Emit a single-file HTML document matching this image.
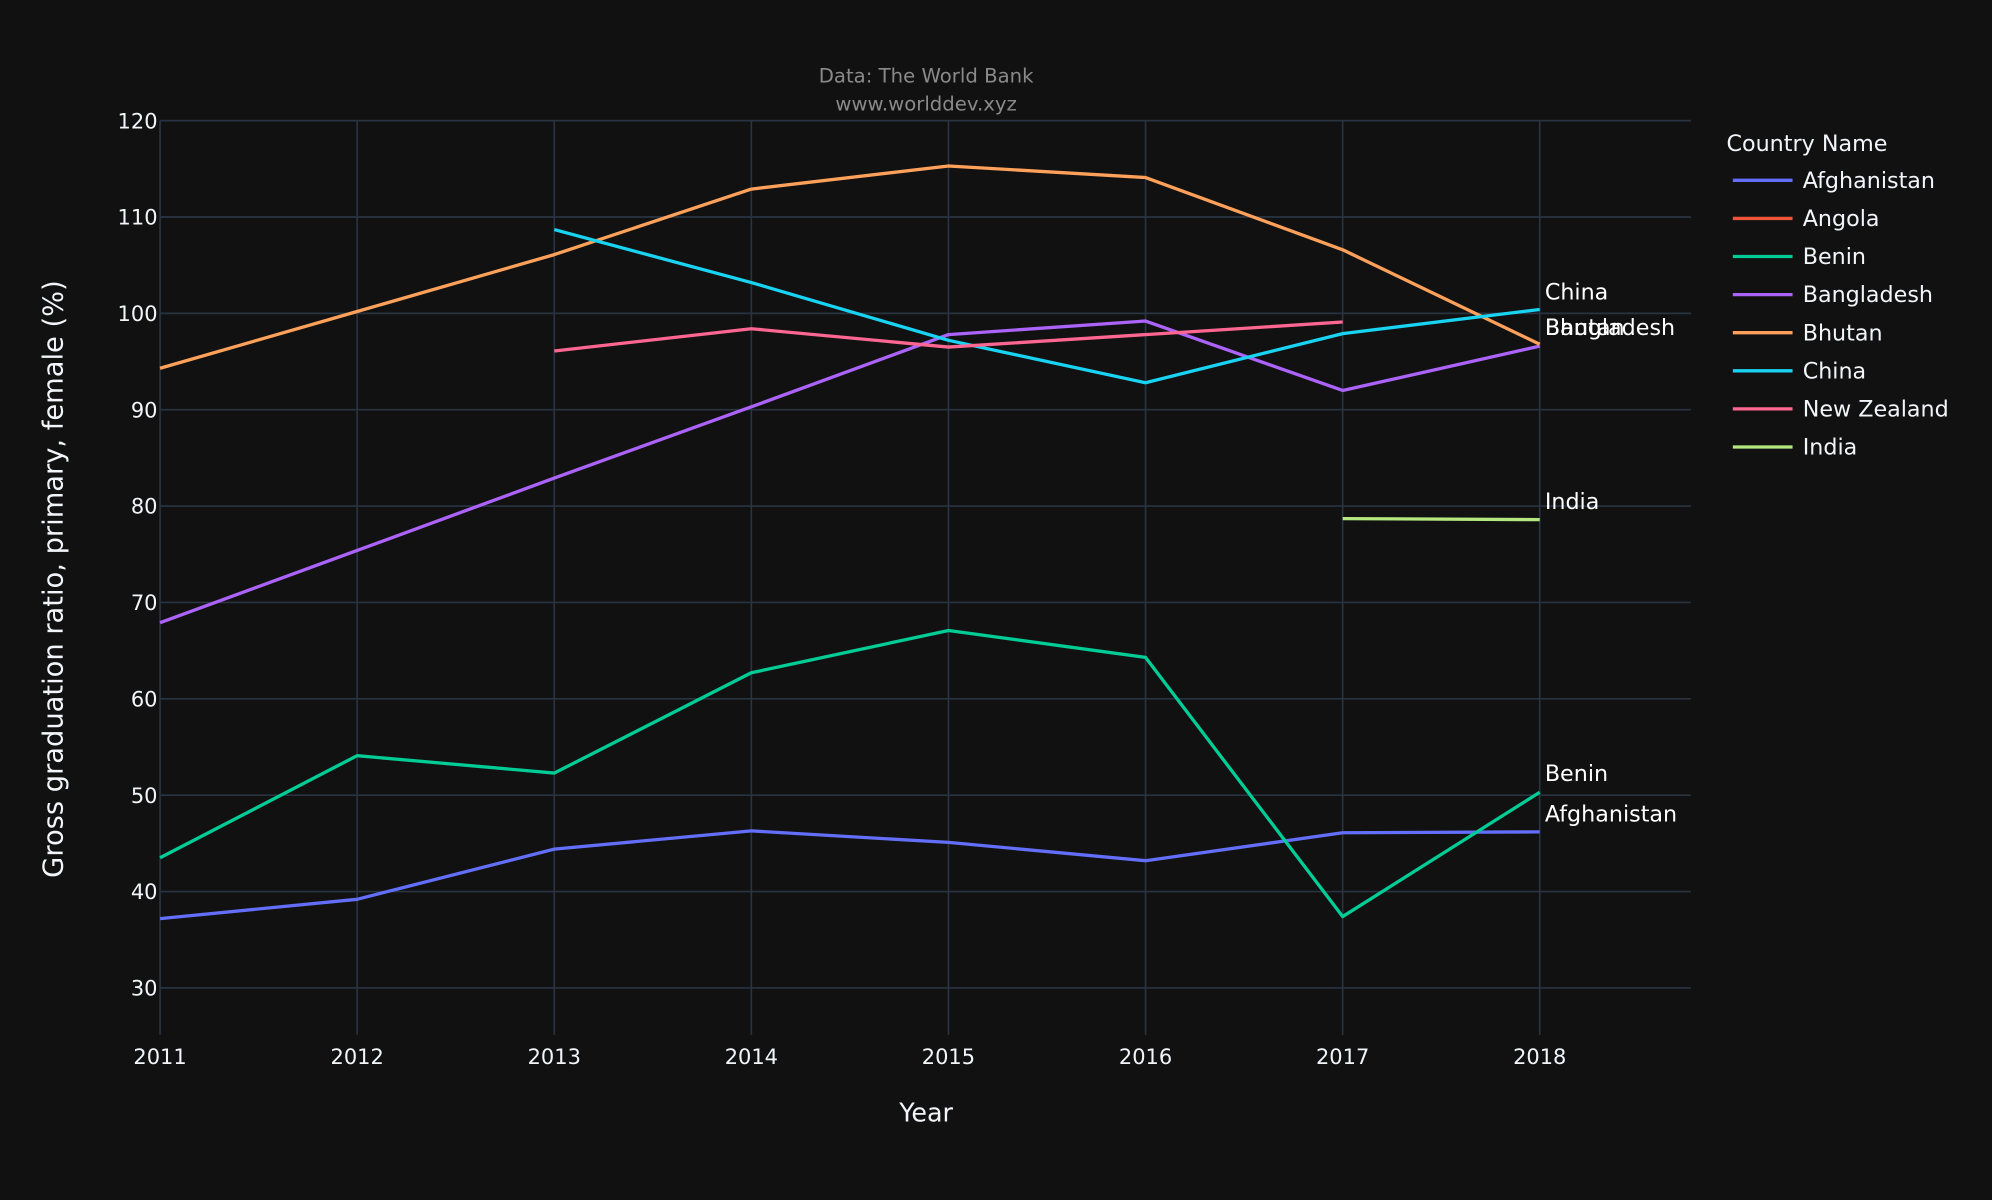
<!DOCTYPE html>
<html><head><meta charset="utf-8"><style>
html,body{margin:0;padding:0;background:#111111;}
svg{display:block;font-family:"DejaVu Sans","Liberation Sans",sans-serif;}
</style></head>
<body>
<svg id="chart" width="1992" height="1200" viewBox="0 0 1568 945" preserveAspectRatio="none" xmlns="http://www.w3.org/2000/svg">
<rect width="1568" height="945" fill="#111111"/>
<g id="grid"></g>
<g id="series"></g>
<g id="labels"></g>
<text x="729" y="65" text-anchor="middle" font-size="15.5" fill="#8a8a8a">Data: The World Bank</text>
<text x="729" y="87" text-anchor="middle" font-size="15.5" fill="#8a8a8a">www.worlddev.xyz</text>
<text x="729" y="883" text-anchor="middle" font-size="20" fill="#f2f5fa">Year</text>
<text transform="translate(49,456) rotate(-90)" text-anchor="middle" font-size="21.5" fill="#f2f5fa">Gross graduation ratio, primary, female (%)</text>
<g id="legend"><text x="1359" y="119" font-size="17.5" fill="#f2f5fa">Country Name</text></g>
</svg>
<script>
const years = [2011,2012,2013,2014,2015,2016,2017,2018];
const yTicks = [30,40,50,60,70,80,90,100,110,120];
const seriesNames = ["Afghanistan","Angola","Benin","Bangladesh","Bhutan","China","New Zealand","India"];
const seriesColors = ["#636efa","#EF553B","#00cc96","#ab63fa","#FFA15A","#19d3f3","#FF6692","#B6E880"];
const afghanistan = [37.2,39.2,44.4,46.3,45.1,43.2,46.1,46.2];
const angola = [null,null,null,null,null,null,null,null];
const benin = [43.5,54.1,52.3,62.7,67.1,64.3,37.4,50.3];
const bangladesh = [67.9,75.4,82.9,90.3,97.8,99.2,92.0,96.6];
const bhutan = [94.3,100.2,106.1,112.9,115.3,114.1,106.6,96.8];
const china = [null,null,108.7,103.2,97.2,92.8,97.9,100.4];
const newZealand = [null,null,96.1,98.4,96.5,97.8,99.1,null];
const india = [null,null,null,null,null,null,78.7,78.6];
const allSeries = [afghanistan,angola,benin,bangladesh,bhutan,china,newZealand,india];
const endLabels = [["China",230],["Bhutan",258],["Bangladesh",258],["India",395],["Benin",609],["Afghanistan",641]];

const NS="http://www.w3.org/2000/svg";
function xs(y){return 126+(y-2011)*(1212-126)/7;}
function ys(v){return 778-(v-30)*(778-95)/90;}
function mk(tag,attrs,parent){const e=document.createElementNS(NS,tag);for(const k in attrs)e.setAttribute(k,attrs[k]);parent.appendChild(e);return e;}
const grid=document.getElementById('grid');
yTicks.forEach(t=>{
  const l=mk('line',{x1:126,x2:1331,y1:ys(t),y2:ys(t),stroke:'#283442','stroke-width':1.3},grid);
  
  
  const tx=mk('text',{x:124,y:ys(t)+6,'text-anchor':'end','font-size':16.5,fill:'#f2f5fa'},grid);
  tx.textContent=t;
  
  
});
years.forEach(y=>{
  const l=mk('line',{x1:xs(y),x2:xs(y),y1:95,y2:815,stroke:'#283442','stroke-width':1.3},grid);
  
  
  const tx=mk('text',{x:xs(y),y:838,'text-anchor':'middle','font-size':16.5,fill:'#f2f5fa'},grid);
  tx.textContent=y;
  
  
});
const sg=document.getElementById('series');
allSeries.forEach((data,i)=>{
  const pts=[];data.forEach((v,j)=>{if(v!==null)pts.push(xs(years[j]).toFixed(1)+','+ys(v).toFixed(1));});
  if(pts.length<2)return;
  const p=mk('polyline',{points:pts.join(' '),fill:'none',stroke:seriesColors[i],'stroke-width':2.6,'stroke-linejoin':'round'},sg);
  
  
});
const lg=document.getElementById('labels');
endLabels.forEach(([n,y])=>{
  const t=mk('text',{x:1216,y:y+6,'font-size':17.5,fill:'#ffffff'},lg);
  t.textContent=n;
  
  
});
const leg=document.getElementById('legend');
seriesNames.forEach((n,i)=>{
  const y=142+i*30;
  const g=mk('g',{},leg);
  
  
  mk('line',{x1:1364,x2:1411,y1:y,y2:y,stroke:seriesColors[i],'stroke-width':2.6},g);
  const t=mk('text',{x:1419,y:y+6,'font-size':17.5,fill:'#f2f5fa'},g);
  t.textContent=n;
});
</script>
</body></html>
